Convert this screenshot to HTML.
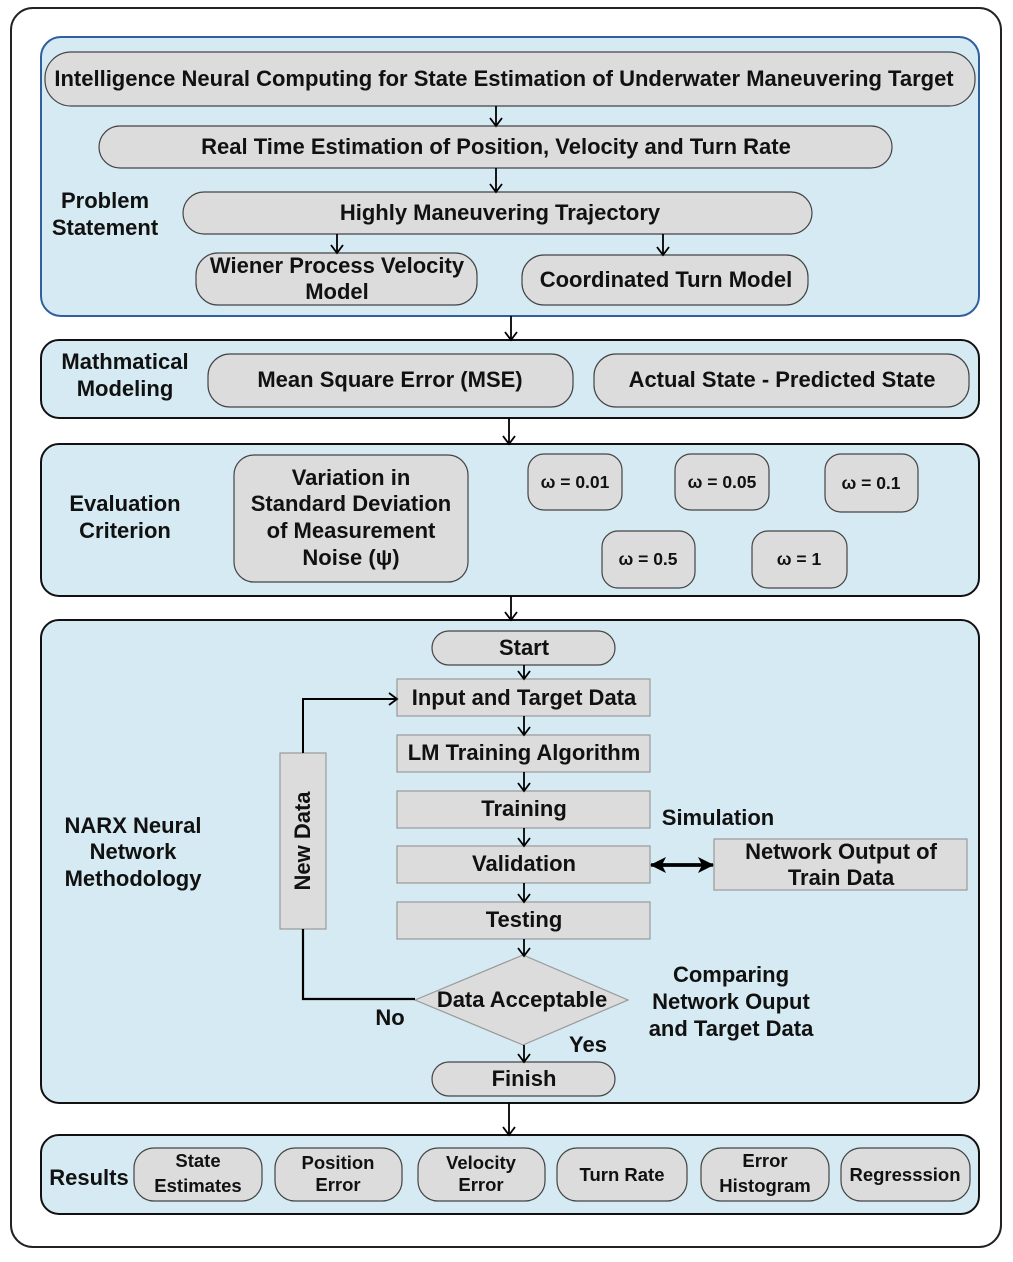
<!DOCTYPE html><html><head><style>body{margin:0;background:#fff}svg text{font-family:"Liberation Sans",Arial,sans-serif;font-weight:bold;fill:#111}</style></head><body>
<svg width="1013" height="1257" viewBox="0 0 1013 1257" xmlns="http://www.w3.org/2000/svg">
<defs><marker id="a" markerWidth="14" markerHeight="14" refX="11" refY="7" orient="auto" markerUnits="userSpaceOnUse"><path d="M3,1 L11,7 L3,13" fill="none" stroke="#000" stroke-width="1.8"/></marker>
<marker id="f" markerWidth="16" markerHeight="16" refX="15" refY="8" orient="auto" markerUnits="userSpaceOnUse"><path d="M0,0 L16,8 L0,16 L4,8z" fill="#000"/></marker></defs>
<rect x="11" y="8" width="990" height="1239" rx="22" fill="#fff" stroke="#222" stroke-width="2"/>
<g fill="#d5eaf2" stroke="#111" stroke-width="2">
<rect x="41" y="37" width="938" height="279" rx="20" stroke="#2f5f9e"/>
<rect x="41" y="340" width="938" height="78" rx="18"/>
<rect x="41" y="444" width="938" height="152" rx="18"/>
<rect x="41" y="620" width="938" height="483" rx="18"/>
<rect x="41" y="1135" width="938" height="79" rx="18"/>
</g>
<g fill="#dcdcdc" stroke="#444" stroke-width="1.2">
<rect x="45" y="52" width="930" height="54" rx="26"/>
<rect x="99" y="126" width="793" height="42" rx="21"/>
<rect x="183" y="192" width="629" height="42" rx="21"/>
<rect x="196" y="253" width="281" height="52" rx="22"/>
<rect x="522" y="255" width="286" height="50" rx="22"/>
<rect x="208" y="354" width="365" height="53" rx="22"/>
<rect x="594" y="354" width="375" height="53" rx="22"/>
<rect x="234" y="455" width="234" height="127" rx="20"/>
<rect x="528" y="454" width="94" height="56" rx="16"/>
<rect x="675" y="454" width="94" height="56" rx="16"/>
<rect x="825" y="454" width="93" height="58" rx="16"/>
<rect x="602" y="531" width="93" height="57" rx="16"/>
<rect x="752" y="531" width="95" height="57" rx="16"/>
<rect x="432" y="631" width="183" height="34" rx="17"/>
<rect x="432" y="1062" width="183" height="34" rx="17"/>
<rect x="397" y="679" width="253" height="37" stroke="#999"/>
<rect x="397" y="735" width="253" height="37" stroke="#999"/>
<rect x="397" y="791" width="253" height="37" stroke="#999"/>
<rect x="397" y="846" width="253" height="37" stroke="#999"/>
<rect x="397" y="902" width="253" height="37" stroke="#999"/>
<rect x="280" y="753" width="46" height="176" stroke="#999"/>
<rect x="714" y="839" width="253" height="51" stroke="#999"/>
<path d="M415,1000 L523,955 L628,1000 L523,1045z" stroke="#999"/>
<rect x="134" y="1148" width="128" height="53" rx="20"/>
<rect x="275" y="1148" width="127" height="53" rx="20"/>
<rect x="418" y="1148" width="127" height="53" rx="20"/>
<rect x="557" y="1148" width="130" height="53" rx="20"/>
<rect x="701" y="1148" width="128" height="53" rx="20"/>
<rect x="841" y="1148" width="129" height="53" rx="20"/>
</g>
<g stroke="#000" stroke-width="1.8" fill="none" marker-end="url(#a)">
<path d="M496,106 V126"/><path d="M496,168 V192"/><path d="M337,234 V253"/><path d="M663,234 V255"/>
<path d="M511,316 V340"/><path d="M509,418 V444"/><path d="M511,596 V620"/><path d="M509,1103 V1135"/>
<path d="M524,665 V679"/><path d="M524,716 V735"/><path d="M524,772 V791"/><path d="M524,828 V846"/><path d="M524,883 V902"/><path d="M524,939 V956"/><path d="M524,1045 V1062"/>
<path d="M303,753 V699 H397" stroke-width="2"/>
</g>
<path d="M303,929 V999 H415" stroke="#000" stroke-width="2.2" fill="none"/>
<path d="M660,865 H713" stroke="#000" stroke-width="3.5" marker-end="url(#f)"/>
<path d="M700,865 H651" stroke="#000" stroke-width="3.5" marker-end="url(#f)"/>
<g font-size="22" text-anchor="middle">
<text x="504" y="86">Intelligence Neural Computing for State Estimation of Underwater Maneuvering Target</text>
<text x="496" y="154">Real Time Estimation of Position, Velocity and Turn Rate</text>
<text x="500" y="220">Highly Maneuvering Trajectory</text>
<text x="337" y="273">Wiener Process Velocity</text><text x="337" y="299">Model</text>
<text x="666" y="287">Coordinated Turn Model</text>
<text x="105" y="208">Problem</text><text x="105" y="235">Statement</text>
<text x="125" y="369">Mathmatical</text><text x="125" y="396">Modeling</text>
<text x="390" y="387">Mean Square Error (MSE)</text>
<text x="782" y="387">Actual State - Predicted State</text>
<text x="125" y="511">Evaluation</text><text x="125" y="538">Criterion</text>
<text x="351" y="485">Variation in</text><text x="351" y="511">Standard Deviation</text><text x="351" y="538">of Measurement</text><text x="351" y="565">Noise (ψ)</text>
<text x="524" y="655">Start</text>
<text x="524" y="705">Input and Target Data</text>
<text x="524" y="760">LM Training Algorithm</text>
<text x="524" y="816">Training</text>
<text x="524" y="871">Validation</text>
<text x="524" y="927">Testing</text>
<text x="522" y="1007">Data Acceptable</text>
<text x="524" y="1086">Finish</text>
<text x="390" y="1025">No</text><text x="588" y="1052">Yes</text>
<text x="718" y="825">Simulation</text>
<text x="841" y="859">Network Output of</text><text x="841" y="885">Train Data</text>
<text x="731" y="982">Comparing</text><text x="731" y="1009">Network Ouput</text><text x="731" y="1036">and Target Data</text>
<text x="133" y="833">NARX Neural</text><text x="133" y="859">Network</text><text x="133" y="886">Methodology</text>
<text transform="translate(310,841) rotate(-90)">New Data</text>
<text x="89" y="1185">Results</text>
</g>
<g font-size="17.5" text-anchor="middle">
<text x="575" y="488">ω = 0.01</text><text x="722" y="488">ω = 0.05</text><text x="871" y="489">ω = 0.1</text>
<text x="648" y="565">ω = 0.5</text><text x="799" y="565">ω = 1</text>
<g font-size="18.5">
<text x="198" y="1167">State</text><text x="198" y="1192">Estimates</text>
<text x="338" y="1169">Position</text><text x="338" y="1191">Error</text>
<text x="481" y="1169">Velocity</text><text x="481" y="1191">Error</text>
<text x="622" y="1181">Turn Rate</text>
<text x="765" y="1167">Error</text><text x="765" y="1192">Histogram</text>
<text x="905" y="1181">Regresssion</text>
</g></g>
</svg></body></html>
